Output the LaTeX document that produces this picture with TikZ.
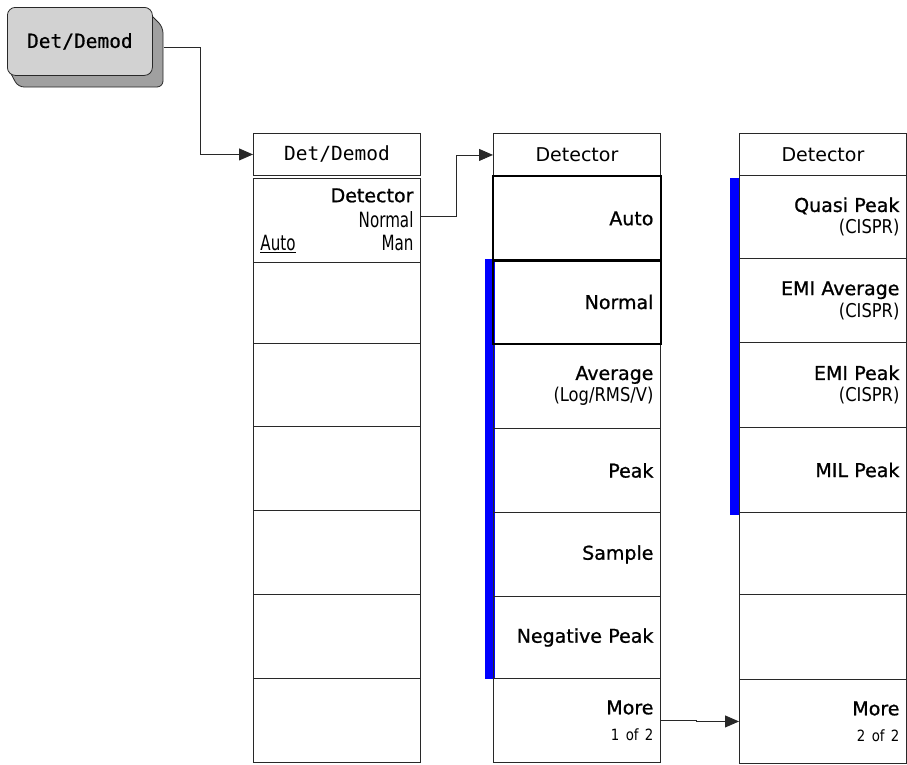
\documentclass[tikz,border=0pt]{standalone}
\usepackage{fontspec}
\setmainfont{DejaVu Sans}
\newfontfamily\keyfont[FakeBold=1]{DejaVu Sans}
\newfontfamily\condfont[FakeStretch=0.72]{DejaVu Sans}
\newfontfamily\smallfont[FakeStretch=0.86]{DejaVu Sans}
\newfontfamily\btnfont[FakeBold=0.6]{DejaVu Sans Mono}
\newfontfamily\monofont{DejaVu Sans Mono}
\usetikzlibrary{arrows.meta}
\definecolor{facegray}{RGB}{210,210,210}
\definecolor{shadegray}{RGB}{160,160,160}
\definecolor{linegray}{RGB}{40,40,40}
\definecolor{barblue}{RGB}{0,0,255}
\tikzset{
  keybox/.style={draw=linegray, line width=0.9pt, anchor=north west, minimum width=167pt,
    text width=153pt, inner xsep=7pt, inner ysep=0pt, align=right, font=\keyfont\fontsize{19}{22}\selectfont},
  headbox/.style={draw=linegray, line width=0.9pt, anchor=north west, minimum width=167pt,
    inner sep=0pt, align=center, font=\fontsize{19}{22}\selectfont},
  selbox/.style={draw=black, line width=2.6pt},
  conn/.style={draw=linegray, line width=0.9pt, -{Triangle[length=14pt,width=12pt]}},
}
\newcommand{\subl}[1]{{\smallfont\fontsize{19}{20}\selectfont #1}}
\newcommand{\pagel}[1]{{\smallfont\fontsize{15.5}{18}\selectfont #1}}
\newcommand{\condl}[1]{{\condfont\fontsize{21}{23}\selectfont #1}}
\begin{document}
\begin{tikzpicture}[x=1pt,y=-1pt]
\useasboundingbox (0,0) rectangle (907,764);
% hardkey button
\draw[draw=linegray, line width=0.8pt, fill=shadegray, rounded corners=6]
  (144,8) -- (163,27) -- (163,87) -- (18,87) -- (8,68) -- cycle;
\node[draw=linegray, line width=0.8pt, fill=facegray, rounded corners=8, anchor=north west,
  minimum width=145pt, minimum height=68pt, inner sep=0pt, font=\btnfont\fontsize{19.5}{22}\selectfont]
  (btn) at (7,7) {Det/Demod};
% blue bars
\fill[barblue] (485,259) rectangle (495,679);
\fill[barblue] (730,178) rectangle (739,515);
% column 1
\node[headbox, minimum height=42pt, font=\monofont\fontsize{19.5}{22}\selectfont] (h1) at (253,133) {Det/Demod};
\node[keybox, minimum height=84pt] (a1) at (253,178)
  {Detector\\[3pt]\condl{Normal}\\[1pt]\condl{\makebox[153pt]{\underline{Auto}\hfill Man}}};
\node[keybox, minimum height=81pt] (a2) at (253,262) {};
\node[keybox, minimum height=83pt] (a3) at (253,343) {};
\node[keybox, minimum height=84pt] (a4) at (253,426) {};
\node[keybox, minimum height=84pt] (a5) at (253,510) {};
\node[keybox, minimum height=84pt] (a6) at (253,594) {};
\node[keybox, minimum height=84pt] (a7) at (253,678) {};
% column 2
\node[headbox, minimum height=43pt] (h2) at (493,133) {Detector};
\node[keybox, minimum height=84pt] (b1) at (493,176) {Auto};
\node[keybox, minimum height=83pt] (b2) at (493,260) {Normal};
\node[keybox, minimum height=85pt] (b3) at (493,343) {Average\\\subl{(Log/RMS/V)}};
\node[keybox, minimum height=84pt] (b4) at (493,428) {Peak};
\node[keybox, minimum height=84pt] (b5) at (493,512) {Sample};
\node[keybox, minimum height=82pt] (b6) at (493,596) {Negative Peak};
\node[keybox, minimum height=84pt] (b7) at (493,678) {More\\[4pt]\pagel{1 of 2}};
\draw[selbox] (b1.north west) rectangle (b1.south east);
\draw[selbox] (b2.north west) rectangle (b2.south east);
% column 3
\node[headbox, minimum height=42pt] (h3) at (739,133) {Detector};
\node[keybox, minimum height=83pt] (c1) at (739,175) {Quasi Peak\\\subl{(CISPR)}};
\node[keybox, minimum height=84pt] (c2) at (739,258) {EMI Average\\\subl{(CISPR)}};
\node[keybox, minimum height=85pt] (c3) at (739,342) {EMI Peak\\\subl{(CISPR)}};
\node[keybox, minimum height=85pt] (c4) at (739,427) {MIL Peak};
\node[keybox, minimum height=82pt] (c5) at (739,512) {};
\node[keybox, minimum height=85pt] (c6) at (739,594) {};
\node[keybox, minimum height=84pt] (c7) at (739,679) {More\\[4pt]\pagel{2 of 2}};
% connectors
\draw[conn] ([shift={(11pt,-6pt)}]btn.east) -- ++(37,0) |- (h1.west);
\draw[conn] ([yshift=4pt]a1.east) -- ++(36,0) |- (h2.west);
\draw[conn] (b7.east) -- ++(36,0) |- (c7.west);
\end{tikzpicture}
\end{document}
